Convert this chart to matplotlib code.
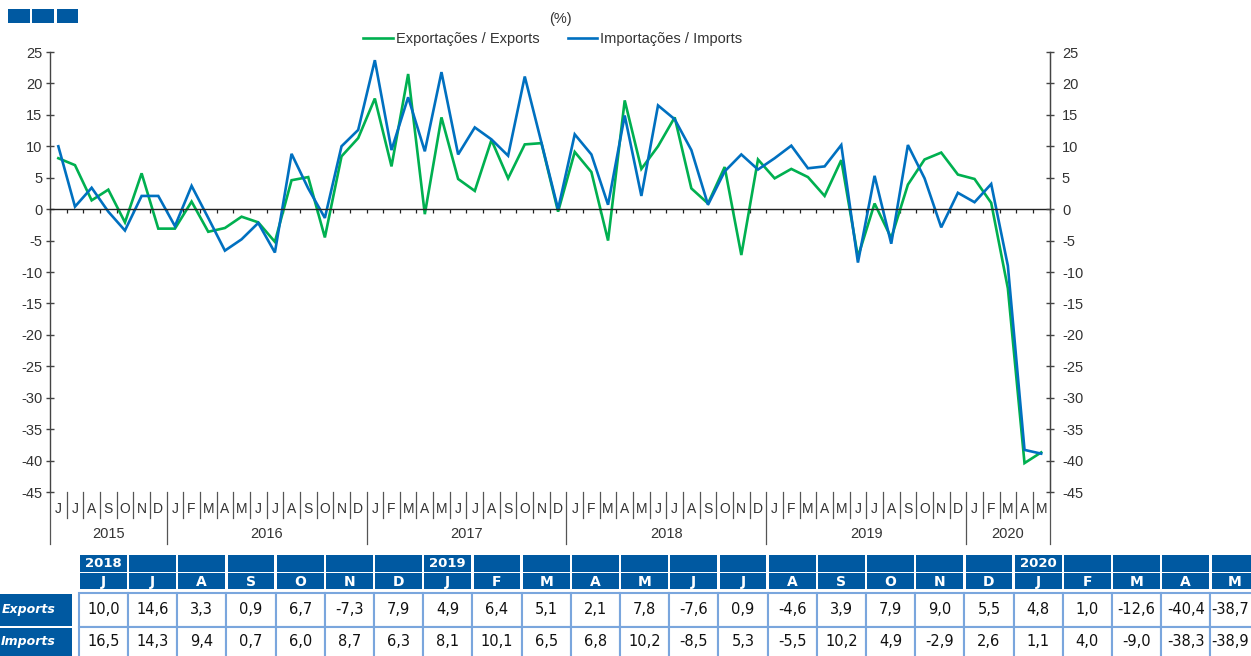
import numpy as np
import matplotlib
matplotlib.use("Agg")
import matplotlib.pyplot as plt
import matplotlib.transforms as mtransforms
from matplotlib.patches import Rectangle

# ---------------- data ----------------
month_labels = (['J', 'J', 'A', 'S', 'O', 'N', 'D'] +
                ['J', 'F', 'M', 'A', 'M', 'J', 'J', 'A', 'S', 'O', 'N', 'D'] * 4 +
                ['J', 'F', 'M', 'A', 'M'])
year_labels = ['2015', '2016', '2017', '2018', '2019', '2020']
year_start_index = [0, 7, 19, 31, 43, 55]   # first month of each year in the series

exports = [8.1, 7.0, 1.4, 3.1, -2.1, 5.7, -3.1,
           -3.1, 1.2, -3.6, -3.0, -1.2, -2.1, -5.2, 4.6, 5.1, -4.5, 8.4, 11.3,
           17.6, 6.8, 21.5, -0.8, 14.6, 4.8, 2.9, 11.0, 4.9, 10.3, 10.5, -0.4,
           9.1, 5.9, -5.0, 17.3, 6.4, 10.0, 14.6, 3.3, 0.9, 6.7, -7.3, 7.9,
           4.9, 6.4, 5.1, 2.1, 7.8, -7.6, 0.9, -4.6, 3.9, 7.9, 9.0, 5.5,
           4.8, 1.0, -12.6, -40.4, -38.7]
imports = [10.0, 0.4, 3.4, -0.4, -3.4, 2.1, 2.1,
           -2.7, 3.7, -1.4, -6.6, -4.8, -2.2, -6.9, 8.8, 3.3, -1.4, 10.0, 12.6,
           23.7, 9.4, 17.8, 9.2, 21.8, 8.7, 13.0, 11.1, 8.5, 21.1, 10.6, 0.0,
           11.9, 8.7, 0.7, 14.9, 2.1, 16.5, 14.3, 9.4, 0.7, 6.0, 8.7, 6.3,
           8.1, 10.1, 6.5, 6.8, 10.2, -8.5, 5.3, -5.5, 10.2, 4.9, -2.9, 2.6,
           1.1, 4.0, -9.0, -38.3, -38.9]

table_start = 36   # June 2018
table_months = ['J', 'J', 'A', 'S', 'O', 'N', 'D', 'J', 'F', 'M', 'A', 'M',
                'J', 'J', 'A', 'S', 'O', 'N', 'D', 'J', 'F', 'M', 'A', 'M']
table_years = {0: '2018', 7: '2019', 19: '2020'}
table_exports = exports[table_start:]
table_imports = imports[table_start:]

label_exp = 'Exportações / Exports'
label_imp = 'Importações / Imports'

# ---------------- style ----------------
W, H = 1251, 656
GREEN = '#00B050'
BLUE = '#0070C0'
DARKBLUE = '#0059A1'
BORDER = '#7AA6DD'
TXT = '#333333'
FONT = 'Liberation Sans'

plt.rcParams['font.family'] = [FONT, 'DejaVu Sans']

fig = plt.figure(figsize=(W / 100, H / 100), dpi=100)
fig.patch.set_facecolor('white')

# overlay axes in pixel coordinates for decorations and table
ov = fig.add_axes([0, 0, 1, 1], zorder=0)
ov.set_xlim(0, W)
ov.set_ylim(H, 0)
ov.axis('off')

# main chart axes
left_px, right_px, top_px, bot_px = 50, 1049.5, 52, 492
ax = fig.add_axes([left_px / W, 1 - bot_px / H, (right_px - left_px) / W,
                   (bot_px - top_px) / H], zorder=1)
ax.patch.set_alpha(0)
n = len(exports)
x = np.arange(n)
ax.plot(x, exports, color=GREEN, lw=1.9, label=label_exp, solid_joinstyle='miter')
ax.plot(x, imports, color=BLUE, lw=1.9, label=label_imp, solid_joinstyle='miter')
ax.set_xlim(-0.5, n - 0.5)
ax.set_ylim(-45, 25)

ax.spines['top'].set_visible(False)
ax.spines['left'].set_color('#444444')
ax.spines['right'].set_color('#444444')
ax.spines['bottom'].set_position(('data', 0))
ax.spines['bottom'].set_color('#222222')
for s in ['left', 'right', 'bottom']:
    ax.spines[s].set_linewidth(1.0)

yt = np.arange(-45, 30, 5)
ax.set_yticks(yt)
ax.set_yticklabels([str(v) for v in yt])
ax.tick_params(axis='y', direction='inout', length=5.3, width=1, pad=2.8,
               labelsize=10.5, labelcolor=TXT, color='#444444', right=False)
ax2 = ax.twinx()
ax2.set_ylim(-45, 25)
ax2.set_yticks(yt)
ax2.set_yticklabels([str(v) for v in yt])
ax2.tick_params(axis='y', direction='inout', length=5.3, width=1, pad=6.3,
                labelsize=10.5, labelcolor=TXT, color='#444444')
for s in ['top', 'bottom', 'left']:
    ax2.spines[s].set_visible(False)
ax2.spines['right'].set_color('#444444')

ax.set_xticks(np.arange(-0.5, n, 1.0))
ax.tick_params(axis='x', direction='out', length=3, width=0.9, color='#222222',
               labelbottom=False)

# month labels and separators below the plot
blend = mtransforms.blended_transform_factory(ax.transData, ax.transAxes)
ah = bot_px - top_px
for i, lbl in enumerate(month_labels):
    ax.text(i, -17 / ah, lbl, transform=blend, ha='center', va='center',
            fontsize=10, color=TXT, clip_on=False)
year_bounds = [s - 0.5 for s in year_start_index] + [n - 0.5]
for b in np.arange(-0.5, n, 1.0):
    depth = 52 if b in year_bounds else 26
    ax.plot([b, b], [0, -depth / ah], transform=blend, clip_on=False,
            color='#555555', lw=0.9)
for k, ylab in enumerate(year_labels):
    a = year_bounds[k]
    b = year_bounds[k + 1]
    ax.text((a + b) / 2, -42 / ah, ylab, transform=blend, ha='center', va='center',
            fontsize=10.5, color=TXT, clip_on=False)

# legend and unit
fig.legend(loc='center', bbox_to_anchor=(553 / W, 1 - 39 / H), ncol=2,
           frameon=False, fontsize=10.5, handlelength=2.0, handletextpad=0.2,
           columnspacing=2.0, labelcolor=TXT)
ov.text(560, 19, '(%)', ha='center', va='center', fontsize=10.5, color=TXT)

# top-left blue boxes
for bx in [8.3, 32.3, 56.6]:
    ov.add_patch(Rectangle((bx, 9.3), 21.7, 14, fc=DARKBLUE, ec='none'))

# ---------------- table ----------------
def fmt(v):
    return f"{v:.1f}".replace('.', ',')

x0, pitch, cw = 80.0, 49.2, 46.7
y_year, h_year = 555.0, 16.7
y_mon, h_mon = 573.3, 15.7
y_r1, h_r1 = 593.3, 33.4
y_r2, h_r2 = 626.7, 33.4
ncol = len(table_months)

for k, m in enumerate(table_months):
    xl = x0 + k * pitch
    ov.add_patch(Rectangle((xl, y_year), cw, h_year, fc=DARKBLUE, ec='none'))
    ov.add_patch(Rectangle((xl, y_mon), cw, h_mon, fc=DARKBLUE, ec='none'))
    if k in table_years:
        ov.text(xl + cw / 2, y_year + h_year / 2 + 0.5, table_years[k], ha='center',
                va='center', fontsize=9.5, fontweight='bold', color='white',
                family='DejaVu Sans')
    ov.text(xl + cw / 2, y_mon + h_mon / 2 + 0.5, m, ha='center', va='center',
            fontsize=10, fontweight='bold', color='white', family='DejaVu Sans')
    last = (k == ncol - 1)
    tx = W - 2 if last else xl + cw / 2
    tha = 'right' if last else 'center'
    for (yy, hh, vals, dy) in [(y_r1, h_r1, table_exports, 0.0),
                               (y_r2, h_r2, table_imports, -1.5)]:
        ov.add_patch(Rectangle((xl - 1.2, yy), pitch, hh, fc='white', ec=BORDER,
                               lw=1.5))
        ov.text(tx, yy + hh / 2 + dy, fmt(vals[k]), ha=tha, va='center',
                fontsize=10.5, color='#111111', family='DejaVu Sans')

ov.add_patch(Rectangle((0, y_r1 + 0.5), 72.3, h_r1 - 1.5, fc=DARKBLUE, ec='none'))
ov.add_patch(Rectangle((0, y_r2 + 1.3), 72.3, h_r2, fc=DARKBLUE, ec='none'))
ov.text(56, y_r1 + h_r1 / 2, 'Exports', ha='right', va='center', fontsize=9,
        fontweight='bold', style='italic', color='white', family='DejaVu Sans')
ov.text(56, y_r2 + h_r2 / 2 - 1.5, 'Imports', ha='right', va='center', fontsize=9,
        fontweight='bold', style='italic', color='white', family='DejaVu Sans')

fig.savefig('out.png', dpi=100)
